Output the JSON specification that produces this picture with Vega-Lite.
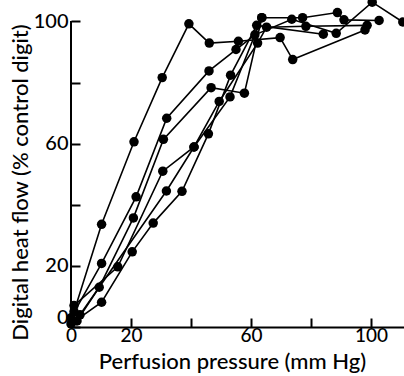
{
  "$schema": "https://vega.github.io/schema/vega-lite/v6.json",
  "width": 333,
  "height": 327,
  "autosize": {"type": "none"},
  "padding": {"left": 71, "top": 0, "right": 0, "bottom": 49},
  "config": {
    "view": {"stroke": null},
    "axis": {
      "grid": false,
      "domainColor": "black",
      "domainWidth": 2,
      "tickColor": "black",
      "tickWidth": 2,
      "labelColor": "black",
      "titleColor": "black",
      "labelFont": "Lato",
      "titleFont": "Lato",
      "labelFontSize": 20,
      "titleFontSize": 22,
      "labelFontWeight": 500,
      "titleFontWeight": 500
    }
  },
  "data": {
    "values": [
      {"s": "A", "i": 0, "x": 1, "y": 5},
      {"s": "A", "i": 1, "x": 10.2, "y": 33.6},
      {"s": "A", "i": 2, "x": 21, "y": 60.6},
      {"s": "A", "i": 3, "x": 30.4, "y": 81.6},
      {"s": "A", "i": 4, "x": 39.3, "y": 99.2},
      {"s": "A", "i": 5, "x": 46.1, "y": 92.9},
      {"s": "A", "i": 6, "x": 55.8, "y": 93.5},
      {"s": "A", "i": 7, "x": 69.7, "y": 94.7},
      {"s": "A", "i": 8, "x": 73.9, "y": 87.5},
      {"s": "A", "i": 9, "x": 98, "y": 97.2},

      {"s": "B", "i": 0, "x": 0, "y": 3},
      {"s": "B", "i": 1, "x": 10.2, "y": 20.8},
      {"s": "B", "i": 2, "x": 21.7, "y": 42.6},
      {"s": "B", "i": 3, "x": 31.9, "y": 68.3},
      {"s": "B", "i": 4, "x": 46, "y": 83.8},
      {"s": "B", "i": 5, "x": 55, "y": 90.8},
      {"s": "B", "i": 6, "x": 61.3, "y": 95.6},
      {"s": "B", "i": 7, "x": 73.6, "y": 100.7},
      {"s": "B", "i": 8, "x": 88.4, "y": 96.1},
      {"s": "B", "i": 9, "x": 100.4, "y": 106.3},
      {"s": "B", "i": 10, "x": 110.6, "y": 99.8},

      {"s": "C", "i": 0, "x": 2, "y": 2},
      {"s": "C", "i": 1, "x": 9.4, "y": 13},
      {"s": "C", "i": 2, "x": 20.8, "y": 35.7},
      {"s": "C", "i": 3, "x": 30.8, "y": 61.4},
      {"s": "C", "i": 4, "x": 46.7, "y": 78.3},
      {"s": "C", "i": 5, "x": 57.8, "y": 76.5},
      {"s": "C", "i": 6, "x": 63.6, "y": 101.2},
      {"s": "C", "i": 7, "x": 77.2, "y": 101.2},
      {"s": "C", "i": 8, "x": 88.8, "y": 102.9},
      {"s": "C", "i": 9, "x": 91, "y": 100.5},
      {"s": "C", "i": 10, "x": 102.7, "y": 100.3},

      {"s": "D", "i": 0, "x": 1, "y": 7},
      {"s": "D", "i": 1, "x": 15.6, "y": 19.7},
      {"s": "D", "i": 2, "x": 30.6, "y": 51},
      {"s": "D", "i": 3, "x": 41, "y": 58.9},
      {"s": "D", "i": 4, "x": 49.4, "y": 73.8},
      {"s": "D", "i": 5, "x": 62.2, "y": 92.9},
      {"s": "D", "i": 6, "x": 65.2, "y": 98.1},
      {"s": "D", "i": 7, "x": 78.3, "y": 98.4},
      {"s": "D", "i": 8, "x": 98.7, "y": 98.7},

      {"s": "E", "i": 0, "x": 0, "y": 1},
      {"s": "E", "i": 1, "x": 10.2, "y": 8.1},
      {"s": "E", "i": 2, "x": 20.4, "y": 24.6},
      {"s": "E", "i": 3, "x": 27.4, "y": 34},
      {"s": "E", "i": 4, "x": 37, "y": 44.4},
      {"s": "E", "i": 5, "x": 45.8, "y": 63.2},
      {"s": "E", "i": 6, "x": 53.2, "y": 82.4},
      {"s": "E", "i": 7, "x": 61.9, "y": 98.7},
      {"s": "E", "i": 8, "x": 84.1, "y": 95.8},

      {"s": "F", "i": 0, "x": 3, "y": 4},
      {"s": "F", "i": 1, "x": 31.8, "y": 44.5},
      {"s": "F", "i": 2, "x": 41, "y": 58.9},
      {"s": "F", "i": 3, "x": 53, "y": 75.3},
      {"s": "F", "i": 4, "x": 63.6, "y": 101.2}
    ]
  },
  "encoding": {
    "x": {
      "field": "x",
      "type": "quantitative",
      "scale": {"domain": [0, 111], "nice": false, "zero": false},
      "axis": {
        "values": [0, 20, 40, 60, 80, 100],
        "tickSize": -9,
        "labelPadding": 8,
        "labelFontSize": 19,
        "labelFlush": false,
        "labelExpr": "datum.value == 40 || datum.value == 80 ? '' : datum.label",
        "title": "Perfusion pressure (mm Hg)",
        "titleX": 161,
        "titleY": 24,
        "titleAlign": "center",
        "titleBaseline": "top"
      }
    },
    "y": {
      "field": "y",
      "type": "quantitative",
      "scale": {"domain": [0, 107], "nice": false, "zero": false},
      "axis": {
        "values": [0, 20, 40, 60, 80, 100],
        "tickSize": -9,
        "labelPadding": 12,
        "labelFlush": true,
        "domain": false,
        "labelExpr": "datum.value == 40 || datum.value == 80 ? '' : datum.label",
        "title": "Digital heat flow (% control digit)",
        "titleX": -39,
        "titleY": 182,
        "titleAngle": 270,
        "titleAlign": "center",
        "titleBaseline": "bottom"
      }
    }
  },
  "layer": [
    {
      "mark": {"type": "line", "color": "black", "strokeWidth": 1.6},
      "encoding": {
        "detail": {"field": "s"},
        "order": {"field": "i", "type": "quantitative"}
      }
    },
    {
      "mark": {"type": "point", "filled": true, "color": "black", "size": 90, "opacity": 1}
    },
    {
      "mark": {"type": "rule", "color": "black", "strokeWidth": 2},
      "encoding": {
        "x": {"datum": 0, "type": "quantitative"},
        "y": {"datum": 0, "type": "quantitative"},
        "y2": {"datum": 100}
      }
    }
  ]
}
